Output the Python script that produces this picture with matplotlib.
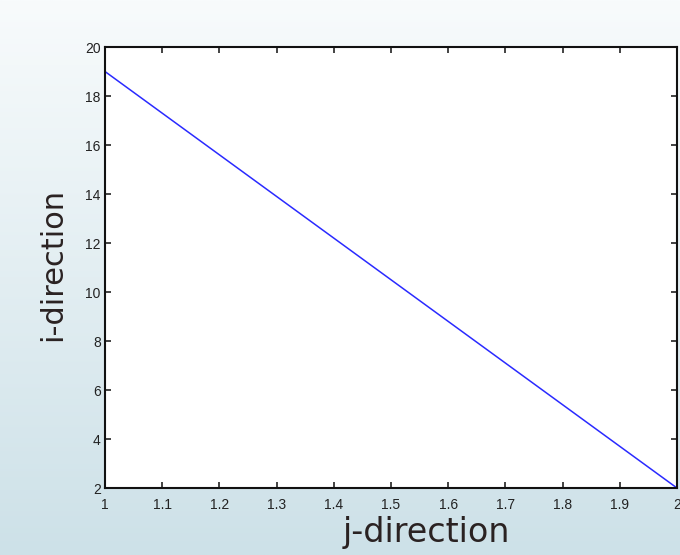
import numpy as np
import matplotlib
matplotlib.use("Agg")
import matplotlib.pyplot as plt

# data
j_vals = [1.0, 2.0]
i_vals = [19.0, 2.0]
x_ticks = [1, 1.1, 1.2, 1.3, 1.4, 1.5, 1.6, 1.7, 1.8, 1.9, 2]
x_tick_labels = ["1", "1.1", "1.2", "1.3", "1.4", "1.5", "1.6", "1.7", "1.8", "1.9", "2"]
y_ticks = [2, 4, 6, 8, 10, 12, 14, 16, 18, 20]
y_tick_labels = ["2", "4", "6", "8", "10", "12", "14", "16", "18", "20"]

fig = plt.figure(figsize=(6.8, 5.55), dpi=100)

# background gradient
bg = fig.add_axes([0, 0, 1, 1], zorder=0)
top = np.array([248, 251, 252]) / 255.0
bot = np.array([205, 225, 232]) / 255.0
t = np.linspace(0, 1, 256)[:, None]
grad = top[None, :] * (1 - t) + bot[None, :] * t
img = np.repeat(grad[:, None, :], 4, axis=1)
bg.imshow(img, aspect="auto", extent=[0, 1, 0, 1])
bg.axis("off")

ax = fig.add_axes([0.1544, 0.1207, 0.8412, 0.7946], zorder=1)
ax.set_facecolor("white")
ax.plot(j_vals, i_vals, color="#2a2aff", lw=1.1)
ax.set_xlim(1, 2)
ax.set_ylim(2, 20)
ax.set_xticks(x_ticks)
ax.set_xticklabels(x_tick_labels)
ax.set_yticks(y_ticks)
ax.set_yticklabels(y_tick_labels)
ax.tick_params(direction="in", length=4, width=1.2, top=True, right=True,
               labelsize=10, colors="#222222")
ax.tick_params(axis="x", pad=7)
ax.tick_params(axis="y", pad=3)
for lab in ax.get_xticklabels() + ax.get_yticklabels():
    lab.set_family("Liberation Sans")
for s in ax.spines.values():
    s.set_linewidth(1.5)
    s.set_color("#111111")

ax.set_xlabel("j-direction", fontsize=24, color="#2a2222",
              family="DejaVu Sans", va="bottom")
ax.xaxis.set_label_coords(0.562, -0.138)
ax.set_ylabel("i-direction", fontsize=22, color="#2a2222",
              family="DejaVu Sans", va="center")
ax.yaxis.set_label_coords(-0.092, 0.506)

fig.savefig("out.png", dpi=100)
